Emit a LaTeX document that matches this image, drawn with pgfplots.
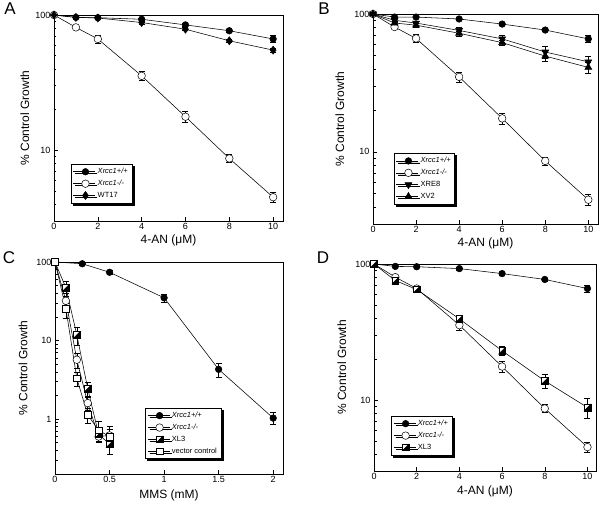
\documentclass[border=0pt]{standalone}
\usepackage{fontspec}
\setmainfont{Liberation Sans}
\usepackage{pgfplots}
\pgfplotsset{compat=1.18}
\pgfdeclareplotmark{hsq}{%
  \pgfscope
  \pgfpathrectangle{\pgfqpoint{-\pgfplotmarksize}{-\pgfplotmarksize}}{\pgfqpoint{2\pgfplotmarksize}{2\pgfplotmarksize}}%
  \pgfsetfillcolor{white}%
  \pgfusepathqfillstroke
  \pgfpathmoveto{\pgfqpoint{\pgfplotmarksize}{\pgfplotmarksize}}%
  \pgfpathlineto{\pgfqpoint{\pgfplotmarksize}{-\pgfplotmarksize}}%
  \pgfpathlineto{\pgfqpoint{-\pgfplotmarksize}{-\pgfplotmarksize}}%
  \pgfpathclose
  \pgfsetfillcolor{black}%
  \pgfusepathqfillstroke
  \endpgfscope
}
\pgfplotsset{
  every axis/.append style={
    scale only axis, anchor=south west,
    ymode=log, ymax=100,
    log ticks with fixed point,
    ytick={0.1,1,10,100},
    tick pos=left, tick align=inside,
    minor x tick num=0,
    axis line style={black, line width=0.6pt},
    major tick length=4pt, minor tick length=2.5pt,
    tick style={black, line width=0.5pt},
    ticklabel style={font=\fontsize{9}{10}\selectfont},
    xticklabel style={inner sep=2pt},
    label style={font=\fontsize{12}{14}\selectfont},
    ylabel style={anchor=center},
    xlabel style={anchor=center},
    /pgf/number format/assume math mode=true,
    legend cell align=left,
    legend style={anchor=south west, draw=black, fill=white, line width=0.5pt,
      font=\fontsize{7.5}{8.5}\selectfont, inner xsep=2pt, inner ysep=2pt, row sep=1pt,
      preaction={fill=black, draw=black, transform canvas={xshift=2pt, yshift=-2pt}}},
  },
  legend image code/.code={\draw[mark repeat=2, mark phase=2, #1] plot coordinates {(0pt,0pt) (12pt,0pt) (22pt,0pt)};},
  every axis plot/.append style={line width=0.55pt, black},
  eb/.style={error bars/.cd, y dir=both, y explicit,
    error bar style={line width=0.5pt, black},
    error mark options={rotate=90, mark size=3pt, line width=0.5pt, black}},
  fc/.style={mark=*, mark size=3.3pt, mark options={fill=black, draw=black}},
  oc/.style={mark=*, mark size=3.8pt, mark options={fill=white, draw=black, line width=0.5pt}},
  dm/.style={mark=diamond*, mark size=4pt, mark options={fill=black}},
  td/.style={mark=triangle*, mark size=4pt, mark options={fill=black, rotate=180}},
  tu/.style={mark=triangle*, mark size=4pt, mark options={fill=black}},
  hs/.style={mark=hsq, mark size=3.3pt, mark options={line width=0.5pt}},
  os/.style={mark=square*, mark size=3.3pt, mark options={fill=white, draw=black, line width=0.5pt}},
}
\begin{document}
\begin{tikzpicture}[x=1pt,y=1pt]
\useasboundingbox (0,0) rectangle (600,504);
\node[font=\fontsize{17}{17}\selectfont] at (10,495) {A};
\node[font=\fontsize{17}{17}\selectfont] at (324,495) {B};
\node[font=\fontsize{17}{17}\selectfont] at (9,246) {C};
\node[font=\fontsize{17}{17}\selectfont] at (323,246) {D};

% Panel A
\begin{axis}[at={(54pt,283pt)}, width=229pt, height=206pt,
  xmin=0, xmax=10.45, ymin=3, xtick={0,2,4,6,8,10},
  xlabel={4-AN (μM)}, ylabel={\% Control Growth},
  xlabel style={at={(axis description cs:0.5,0)}, yshift=-19pt},
  ylabel style={at={(axis description cs:-0.127,0.5)}},
  legend style={at={(0.074,0.087)}}]
\addplot[fc, eb] coordinates {(0,100) (1,96) (2,95.5) (4,93) +- (0,2) (6,84.5) +- (0,2) (8,76.5) +- (0,2) (10,66.5) +- (0,4)};
\addlegendentry{\textit{Xrcc1+/+}}
\addplot[oc, eb] coordinates {(0,100) (1,81) +- (0,2) (2,66.5) +- (0,4.3) (4,35.5) +- (0,2.8) (6,17.7) +- (0,1.6) (8,8.7) +- (0,0.6) (10,4.5) +- (0,0.4)};
\addlegendentry{\textit{Xrcc1-/-}}
\addplot[dm, eb] coordinates {(0,100) (1,96) (2,95) (4,88) +- (0,2) (6,78.5) +- (0,2) (8,64.5) +- (0,2) (10,55) +- (0,2)};
\addlegendentry{WT17}
\end{axis}

% Panel B
\begin{axis}[at={(373pt,280pt)}, width=225pt, height=210pt,
  xmin=0, xmax=10.45, ymin=3, xtick={0,2,4,6,8,10},
  xlabel={4-AN (μM)}, ylabel={\% Control Growth},
  xlabel style={at={(axis description cs:0.5,0)}, yshift=-19pt},
  ylabel style={at={(axis description cs:-0.147,0.5)}},
  legend style={at={(0.093,0.095)}}]
\addplot[fc, eb] coordinates {(0,100) (1,95) (2,95) (4,92) +- (0,2) (6,84.5) +- (0,2) (8,76.5) +- (0,2) (10,66) +- (0,4)};
\addlegendentry{\textit{Xrcc1+/+}}
\addplot[oc, eb] coordinates {(0,100) (1,80.5) +- (0,2) (2,66.5) +- (0,4.3) (4,35) +- (0,2.8) (6,17.5) +- (0,1.6) (8,8.6) +- (0,0.6) (10,4.5) +- (0,0.4)};
\addlegendentry{\textit{Xrcc1-/-}}
\addplot[td, eb] coordinates {(0,100) (1,90) +- (0,3) (2,86) +- (0,3) (4,76) +- (0,4) (6,66) +- (0,4) (8,53) +- (0,5) (10,45) +- (0,4.5)};
\addlegendentry{XRE8}
\addplot[tu, eb] coordinates {(0,100) (1,86) +- (0,3) (2,83) +- (0,3) (4,72.5) +- (0,3) (6,62) +- (0,3) (8,49.5) +- (0,4) (10,41) +- (0,4)};
\addlegendentry{XV2}
\end{axis}

% Panel C
\begin{axis}[at={(55pt,30pt)}, width=228pt, height=212pt,
  xmin=0, xmax=2.09, ymin=0.2, xtick={0,0.5,1,1.5,2},
  xlabel={MMS (mM)}, ylabel={\% Control Growth},
  xlabel style={at={(axis description cs:0.5,0)}, yshift=-21pt},
  ylabel style={at={(axis description cs:-0.14,0.5)}},
  legend style={at={(0.395,0.071)}}]
\addplot[fc, eb] coordinates {(0,100) (0.25,95) +- (0,3) (0.5,74) +- (0,4) (1,35) +- (0,4) (1.5,4.3) +- (0,0.9) (2,1.03) +- (0,0.18)};
\addlegendentry{\textit{Xrcc1+/+}}
\addplot[oc, eb] coordinates {(0,100) (0.1,32) +- (0,8) (0.2,5.7) +- (0,1.2) (0.3,1.6) +- (0,0.3) (0.4,0.6) +- (0,0.1) (0.5,0.62) +- (0,0.18)};
\addlegendentry{\textit{Xrcc1-/-}}
\addplot[hs, eb] coordinates {(0,100) (0.1,47) +- (0,10) (0.2,11.8) +- (0,3) (0.3,2.45) +- (0,0.5) (0.4,0.64) +- (0,0.12) (0.5,0.48) +- (0,0.12)};
\addlegendentry{XL3}
\addplot[os, eb] coordinates {(0,100) (0.1,25.5) +- (0,6) (0.2,3.3) +- (0,0.7) (0.3,1.13) +- (0,0.25) (0.4,0.72) +- (0,0.22) (0.5,0.6) +- (0,0.15)};
\addlegendentry{vector control}
\end{axis}

% Panel D
\begin{axis}[at={(374pt,33pt)}, width=222pt, height=207pt,
  xmin=0, xmax=10.4, ymin=3, xtick={0,2,4,6,8,10},
  xlabel={4-AN (μM)}, ylabel={\% Control Growth},
  xlabel style={at={(axis description cs:0.5,0)}, yshift=-20pt},
  ylabel style={at={(axis description cs:-0.145,0.5)}},
  legend style={at={(0.077,0.077)}}]
\addplot[fc, eb] coordinates {(0,100) (1,96) (2,95.5) (4,92.5) +- (0,2) (6,85) +- (0,2) (8,77) +- (0,2) (10,66) +- (0,4)};
\addlegendentry{\textit{Xrcc1+/+}}
\addplot[oc, eb] coordinates {(0,100) (1,80) +- (0,2) (2,66) +- (0,3) (4,35.5) +- (0,2.8) (6,17.6) +- (0,1.6) (8,8.65) +- (0,0.6) (10,4.5) +- (0,0.4)};
\addlegendentry{\textit{Xrcc1-/-}}
\addplot[hs, eb] coordinates {(0,100) (1,75.5) +- (0,2) (2,65) +- (0,2) (4,39.5) +- (0,2.5) (6,23) +- (0,1.8) (8,13.8) +- (0,1.6) (10,8.8) +- (0,1.5)};
\addlegendentry{XL3}
\end{axis}
\end{tikzpicture}
\end{document}
